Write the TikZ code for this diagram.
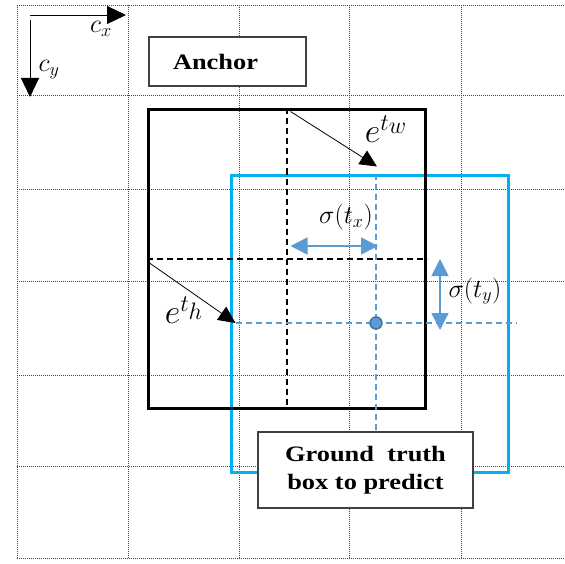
\RequirePackage{fix-cm}
\documentclass[tikz,border=0pt]{standalone}
\usepackage{fontspec}
\newfontfamily\boxfont{Liberation Serif}[FakeStretch=1.2]
\usepackage{xcolor}
\definecolor{gtblue}{RGB}{0,176,240}
\definecolor{offblue}{RGB}{91,155,213}
\definecolor{dotblue}{RGB}{65,113,156}
\definecolor{gridgray}{RGB}{70,70,70}
\usepackage{tikz}
\usetikzlibrary{arrows.meta,positioning,calc}

\begin{document}
\begin{tikzpicture}[x=1pt, y=-1pt,
    gridline/.style={gridgray, line width=0.8pt, dash pattern=on 1pt off 1pt},
    lblbox/.style={rectangle, draw=black!75, line width=1.2pt, fill=white,
                   font=\boxfont\fontsize{22}{28}\selectfont\bfseries, align=center},
    ancbox/.style={rectangle, draw=black, line width=3pt,
                   minimum width=277pt, minimum height=298pt},
    gtbox/.style={rectangle, draw=gtblue, line width=3pt,
                  minimum width=277pt, minimum height=297pt},
    halfline/.style={dash pattern=on 6pt off 4pt, line width=2pt},
    offline/.style={offblue, dash pattern=on 6pt off 4pt, line width=1.8pt},
    axarr/.style={-{Triangle[length=19pt,width=18pt]}, line width=0.9pt},
    scarr/.style={-{Triangle[length=17pt,width=16pt]}, line width=0.8pt},
    offarr/.style={{Triangle[length=17pt,width=17pt]}-{Triangle[length=17pt,width=17pt]},
                   offblue, line width=1.6pt},
    mlbl/.style={inner sep=0pt}
  ]
  \useasboundingbox (0,0) rectangle (564,564);
  % grid
  \foreach \gx in {17,128,239,349,461}
    \draw[gridline] (\gx,5) -- (\gx,558);
  \foreach \gy in {5,95,189,281,375,466,558}
    \draw[gridline] (17,\gy) -- (564,\gy);

  % axes
  \coordinate (o) at (30,15);
  \coordinate (cx) at (126,15);
  \coordinate (cy) at (30,97);
  \draw[axarr] (o) -- (cx);
  \draw[axarr] ([yshift=-5pt]o) -- (cy);
  \node[mlbl, font=\fontsize{26}{30}\selectfont] (cxl) at (101,29) {$c_x$};
  \node[mlbl, font=\fontsize{26}{30}\selectfont] (cyl) at (49,70) {$c_y$};

  % boxes
  \node[lblbox, minimum width=157pt, minimum height=49pt, text width=109pt,
        inner xsep=24pt, align=left] (anclbl) at (227.5,61.5) {Anchor};
  \node[gtbox] (gt) at (369.5,323.5) {};
  \node[ancbox] (anc) at (286.5,259) {};
  \draw[halfline] (anc.north) -- (anc.south);
  \draw[halfline] (anc.west) -- (anc.east);
  \coordinate (gtc) at (376,323);
  \node[lblbox, minimum width=215pt, minimum height=76pt] (gtlbl) at (365.5,470)
    {Ground~~truth\\box to predict};
  \draw[offline] (gtc |- gt.north) -- (gtc |- gtlbl.north);
  \draw[offline] ($(gt.west |- gtc)+(6,0)$) -- ($(gt.east |- gtc)+(7,0)$);
  \filldraw[fill=offblue, draw=dotblue, line width=1.4pt] (gtc) circle[radius=6pt];

  % scale arrows
  \draw[scarr] ($(anc.north)+(4,3)$) -- ($(gtc |- gt.north)+(1,-7)$);
  \draw[scarr] ($(anc.west)+(3,4)$) -- ($(gt.west |- gtc)+(6,0)$);
  \node[mlbl, font=\fontsize{34}{38}\selectfont] (ewl) at (386,129) {$e^{t_{\scriptstyle w}}$};
  \node[mlbl, font=\fontsize{34}{38}\selectfont] (ehl) at (184,310) {$e^{t_{\scriptstyle h}}$};

  % offset arrows
  \coordinate (sx) at ($(anc.center)+(4,-13)$);
  \coordinate (sy) at (440,330);
  \draw[offarr] (sx) -- ($(sx -| gtc)+(2,0)$);
  \draw[offarr] (sy |- anc.center) -- (sy);
  \node[mlbl, font=\fontsize{26}{30}\selectfont] (sxl) at (346,217) {$\sigma(t_x)$};
  \node[mlbl, font=\fontsize{26}{30}\selectfont] (syl) at (475,291) {$\sigma(t_y)$};
\end{tikzpicture}
\end{document}
